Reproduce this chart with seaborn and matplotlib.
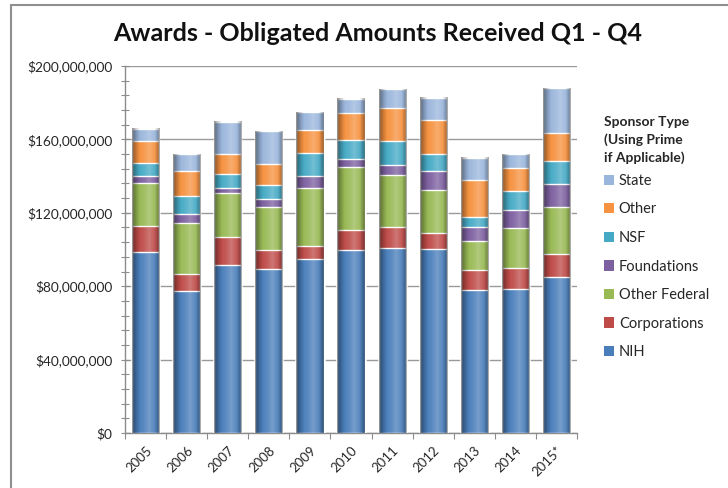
import numpy as np
import matplotlib
matplotlib.use("Agg")
import matplotlib.pyplot as plt
import seaborn as sns
from matplotlib.patches import Patch
from matplotlib.lines import Line2D
from matplotlib.ticker import FuncFormatter, MultipleLocator

# %% data (values in millions of dollars)
years = ["2005", "2006", "2007", "2008", "2009", "2010", "2011", "2012", "2013", "2014", "2015*"]
nih = [98.8, 77.5, 91.6, 89.2, 94.6, 99.6, 101.0, 100.4, 77.8, 78.5, 85.0]
corporations = [14.0, 9.1, 15.0, 10.4, 7.3, 11.2, 11.0, 8.4, 10.8, 11.3, 12.7]
other_federal = [23.3, 27.7, 24.0, 23.4, 31.8, 34.2, 28.8, 23.6, 15.8, 21.7, 25.6]
foundations = [3.8, 5.0, 3.1, 4.3, 6.5, 4.5, 5.5, 10.5, 7.6, 10.0, 12.4]
nsf = [7.1, 9.9, 7.3, 7.7, 12.2, 10.0, 12.7, 9.1, 5.5, 10.2, 12.7]
other = [12.1, 13.6, 10.9, 11.6, 12.9, 14.7, 18.3, 18.6, 20.2, 12.5, 15.3]
state = [6.6, 9.1, 17.6, 17.8, 9.4, 8.0, 10.0, 12.1, 12.2, 7.7, 24.3]

series_names = ["NIH", "Corporations", "Other Federal", "Foundations", "NSF", "Other", "State"]
series_vals = [nih, corporations, other_federal, foundations, nsf, other, state]
colors = ["#4A7EBB", "#BE4B48", "#98B954", "#7D60A0", "#46AAC5", "#F69240", "#9BB6DC"]

# %% plot
sns.set_style("white")
plt.rcParams["font.family"] = ["Lato", "DejaVu Sans"]

fig = plt.figure(figsize=(7.28, 4.88), dpi=100)
ax = fig.add_axes([0.1717, 0.1127, 0.621, 0.752])

# stacked bars: draw cumulative totals from the top series down
cum = np.cumsum(np.array(series_vals, dtype=float), axis=0) * 1e6
for i in range(len(series_names) - 1, -1, -1):
    sns.barplot(x=years, y=cum[i], color=colors[i], width=0.66, saturation=1,
                ax=ax, zorder=3)

# cylinder-like shading over each stacked column
n = 64
t = np.linspace(0, 1, n)
shade = np.zeros((1, n, 4))
light = np.clip(1 - np.abs(t - 0.62) / 0.5, 0, 1)
shade[0, :, :3] = 1.0
shade[0, :, 3] = 0.25 * light ** 2
dark = np.zeros((1, n, 4))
dark[0, :, 3] = 0.45 * np.clip((0.3 - t) / 0.3, 0, 1) ** 1.3 + 0.35 * np.clip((t - 0.82) / 0.18, 0, 1)
for j, tot in enumerate(cum[-1]):
    ext = (j - 0.33, j + 0.33, 0, tot)
    ax.imshow(shade, extent=ext, aspect="auto", zorder=4, interpolation="bilinear")
    ax.imshow(dark, extent=ext, aspect="auto", zorder=4, interpolation="bilinear")

ax.set_xlim(-0.5, len(years) - 0.5)
ax.set_ylim(0, 200e6)

# axes styling
ax.yaxis.set_major_locator(MultipleLocator(40e6))
ax.yaxis.set_minor_locator(MultipleLocator(8e6))
ax.yaxis.set_major_formatter(FuncFormatter(lambda v, p: f"${v:,.0f}"))
ax.grid(axis="y", which="major", color="#9A9A9A", linewidth=1, zorder=0)
ax.set_axisbelow(True)
ax.tick_params(axis="y", which="both", direction="inout", length=6, width=0.8,
               color="#8C8C8C", labelsize=9.8, labelcolor="#262626", left=True, pad=6)
ax.tick_params(axis="y", which="minor", length=6)
ax.set_xticks(range(len(years)))
ax.set_xticklabels(years, rotation=45, ha="right", rotation_mode="anchor")
ax.set_xticks(np.arange(-0.5, len(years), 1), minor=True)
ax.tick_params(axis="x", which="major", length=0, labelsize=9.5, labelcolor="#262626", pad=8)
ax.tick_params(axis="x", which="minor", direction="out", length=4, width=0.8,
               color="#8C8C8C", bottom=True)
ax.set_xlabel("")
ax.set_ylabel("")
for s in ["top", "right"]:
    ax.spines[s].set_visible(False)
for s in ["left", "bottom"]:
    ax.spines[s].set_color("#8C8C8C")
    ax.spines[s].set_linewidth(1)

# title
fig.text(0.519, 0.932, "Awards - Obligated Amounts Received Q1 - Q4",
         ha="center", va="center", fontsize=18, fontweight="bold", color="#111111")

# legend, top entry first
handles = [Patch(facecolor=colors[i], edgecolor="none") for i in range(len(colors) - 1, -1, -1)]
labels = series_names[::-1]
leg = fig.legend(handles, labels, loc="upper left", bbox_to_anchor=(0.829, 0.762),
                 frameon=False, fontsize=10.5, handlelength=0.7, handleheight=0.7,
                 handletextpad=0.35, labelspacing=1.0, borderaxespad=0, borderpad=0,
                 title="Sponsor Type\n(Using Prime\nif Applicable)",
                 title_fontproperties={"weight": "bold", "size": 10})
leg.get_title().set_linespacing(1.5)
leg._legend_box.align = "left"
leg._legend_box.sep = 7

# outer frame (left and top edges of the chart box)
fig.add_artist(Line2D([0.015, 0.015], [0, 0.99], transform=fig.transFigure, color="#8F8F8F", lw=1.5))
fig.add_artist(Line2D([0.015, 1.0], [0.99, 0.99], transform=fig.transFigure, color="#8F8F8F", lw=1.5))

plt.savefig("out.png", dpi=100)
